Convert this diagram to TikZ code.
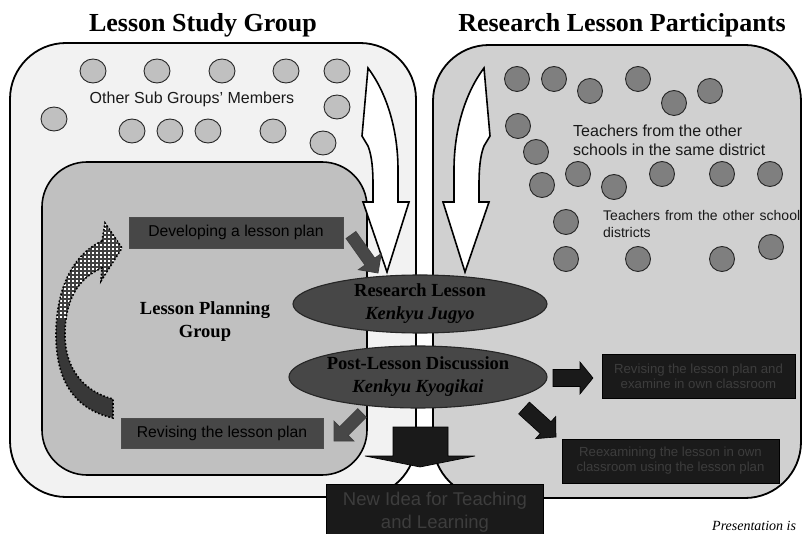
\documentclass[tikz,border=0pt]{standalone}
\usepackage{fontspec}
\setmainfont{Liberation Serif}
\setsansfont{Liberation Sans}
\usetikzlibrary{calc,shapes.geometric}

\definecolor{lpanel}{HTML}{F2F2F2}
\definecolor{rpanel}{HTML}{D0D0D0}
\definecolor{innerc}{HTML}{C0C0C0}
\definecolor{lcirc}{HTML}{C0C0C0}
\definecolor{rcirc}{HTML}{7F7F7F}
\definecolor{darkbox}{HTML}{474747}
\definecolor{blackfill}{HTML}{1A1A1A}
\definecolor{dimtxt}{rgb}{0.24,0.24,0.24}

% style, tail, tip, half shaft, half head, head length
\newcommand{\blkarrow}[6]{%
  \coordinate (ba-t) at (#2);
  \coordinate (ba-p) at (#3);
  \coordinate (ba-h) at ($(ba-p)!#6!(ba-t)$);
  \path[#1] ($(ba-t)!#4!90:(ba-p)$) -- ($(ba-h)!#4!90:(ba-p)$) -- ($(ba-h)!#5!90:(ba-p)$)
    -- (ba-p) -- ($(ba-h)!#5!-90:(ba-p)$) -- ($(ba-h)!#4!-90:(ba-p)$) -- ($(ba-t)!#4!-90:(ba-p)$) -- cycle;}

\begin{document}
\begin{tikzpicture}[x=1pt,y=-1pt,
  panel/.style={draw=black, line width=1.8pt, rounded corners=56pt},
  lcircle/.style={draw=black!85, line width=0.9pt, fill=lcirc},
  rcircle/.style={draw=black!85, line width=0.9pt, fill=rcirc},
  whitearrow/.style={draw=black, line width=1.6pt, fill=white, line join=miter},
  ellnode/.style={ellipse, draw=black!85, line width=1.1pt, fill=darkbox, inner sep=0pt, align=center,
     font=\fontsize{18.5}{23}\selectfont\bfseries},
  graybox/.style={draw=black!70, line width=0.8pt, fill=darkbox, inner sep=0pt,
     font=\sffamily\fontsize{15.7}{18}\selectfont},
  blackbox/.style={draw=black, line width=0.6pt, fill=blackfill, inner sep=0pt, align=center,
     font=\sffamily\fontsize{13.2}{15}\selectfont},
  grayarrow/.style={fill=darkbox, draw=black!75, line width=0.8pt},
  darkarrow/.style={fill=blackfill, draw=black, line width=0.6pt},
  heading/.style={font=\bfseries\fontsize{26}{30}\selectfont, anchor=base}
]
\useasboundingbox (0,0) rectangle (803,534);
\clip (0,0) rectangle (803,534);

% headings
\node[heading] (h1) at (203,32) {Lesson Study Group};
\node[heading] (h2) at (622,32) {Research Lesson Participants};

% panels
\path[panel, fill=lpanel] (10,43) rectangle (416,497);
\path[panel, fill=rpanel] (433,45) rectangle (801,498);
\path[draw=black, line width=1.6pt, fill=innerc, rounded corners=45pt] (42,162) rectangle (367,475);

% left circles
\foreach \cx/\cy in {93/71,157/71,222/71,286/71,337/71,337/107,54/119,132/131,170/131,208/131,273/131,323/143}
  \draw[lcircle] (\cx,\cy) ellipse [x radius=13pt, y radius=12pt];
\node[font=\sffamily\fontsize{16}{19}\selectfont, text=black!90] (osg) at (192,99) {Other Sub Groups’ Members};

% right circles
\foreach \cx/\cy in {517/79,554/79,590/91,638/79,674/103,710/91,518/126,536/152,542/185,578/174,614/187,662/174,722/174,770/174,566/222,566/259,638/259,722/259,771/247}
  \draw[rcircle] (\cx,\cy) circle [radius=12.5pt];
\node[font=\sffamily\fontsize{16}{19.3}\selectfont, align=left, anchor=west, text=black!90, inner sep=0pt] (t1) at (573,140.5)
  {Teachers from the other\\schools in the same district};
\node[font=\sffamily\fontsize{14}{17}\selectfont, align=left, anchor=west, text=black!90, inner sep=0pt] (t2) at (603,223.5)
  {\makebox[197pt][s]{Teachers from the other school}\\districts};

% white double arrows
\path[whitearrow] (368,68) -- (362,136) -- (368,146) .. controls (372,156) and (373,170) .. (373,185) -- (373,202)
  -- (363,202) -- (387,272) -- (409,202) -- (398,202) -- (398,170) .. controls (398,128) and (386,92) .. (368,68) -- cycle;
\begin{scope}[shift={(852,0)}, xscale=-1]
\path[whitearrow] (368,68) -- (362,136) -- (368,146) .. controls (372,156) and (373,170) .. (373,185) -- (373,202)
  -- (363,202) -- (387,272) -- (409,202) -- (398,202) -- (398,170) .. controls (398,128) and (386,92) .. (368,68) -- cycle;
\end{scope}

% gray boxes
\node[graybox, minimum width=214pt, minimum height=31pt] (dev) at (236,232.5) {\color{black}Developing a lesson plan};
\node[graybox, minimum width=202pt, minimum height=30pt] (rev) at (222,433) {\color{black}Revising the lesson plan};
\node[font=\bfseries\fontsize{18.5}{23}\selectfont, align=center] (lpg) at (205,322) {Lesson Planning\\Group};

% small gray arrows
\blkarrow{grayarrow}{351,235}{378,273}{6pt}{14pt}{14pt}
\blkarrow{grayarrow}{362,413}{334,441}{6pt}{14pt}{14pt}

% ellipses
\node[ellnode, minimum width=254pt, minimum height=58pt] (rl) at (420,304) {Research Lesson\\\textit{Kenkyu Jugyo}};
\node[ellnode, minimum width=254pt, minimum height=62pt] (pl) at (418,377) {Post-Lesson Discussion\\\textit{Kenkyu Kyogikai}};

% dark arrows
\blkarrow{darkarrow}{553,378}{593,378}{8.5pt}{16pt}{13pt}
\blkarrow{darkarrow}{524,408}{556,437}{8pt}{15pt}{14pt}
\path[darkarrow] (393,427) -- (448,427) -- (448,456) -- (475,456) -- (420,467) -- (365,456) -- (393,456) -- cycle;

% black boxes
\node[blackbox, minimum width=193pt, minimum height=44pt] (bb1) at (698.5,376)
  {\color{dimtxt}Revising the lesson plan and\\\color{dimtxt}examine in own classroom};
\node[blackbox, minimum width=217pt, minimum height=44pt] (bb2) at (670.5,461)
  {\color{dimtxt}Reexamining the lesson in own\\\color{dimtxt}classroom using the lesson plan};
\node[blackbox, minimum width=217pt, minimum height=55pt, anchor=north, font=\sffamily\fontsize{18.5}{23}\selectfont] (idea) at (435,484)
  {\color{dimtxt}New Idea for Teaching\\\color{dimtxt}and Learning};

\node[anchor=base west, font=\itshape\fontsize{14}{16}\selectfont, inner sep=0pt] (pres) at (712,530) {Presentation is};

% curved hatched arrow
\path[save path=\curvp] (102,241) .. controls (72,255) and (56,290) .. (56,335) .. controls (56,385) and (78,410) .. (113,418)
  -- (113,399) .. controls (85,392) and (65,370) .. (65,335) .. controls (65,300) and (78,278) .. (102,268)
  -- (101,281) -- (122,248) -- (105,223) -- cycle;
\fill[black!78, use path=\curvp];
\begin{scope}
\clip (40,200) rectangle (140,318);
\path[clip, use path=\curvp];
\fill[black!75] (40,200) rectangle (140,318);
\foreach \gx in {48,52,...,128}
  \foreach \gy in {212,216,...,320}
    \fill[white] (\gx,\gy) rectangle ++(2,2);
\end{scope}
\draw[dotted, line width=1.6pt, use path=\curvp];
\end{tikzpicture}
\end{document}
